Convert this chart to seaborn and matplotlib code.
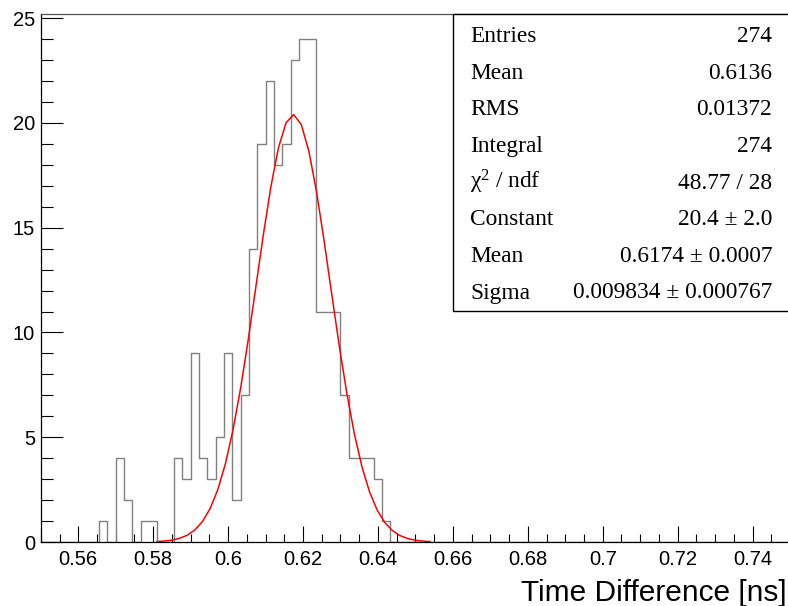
import numpy as np
import pandas as pd
import matplotlib
matplotlib.use("Agg")
import matplotlib.pyplot as plt
from matplotlib.ticker import MultipleLocator, FuncFormatter
from matplotlib.patches import Rectangle
import seaborn as sns

# ---------------- data ----------------
x_min, x_max, n_bins = 0.55, 0.75, 90
first_bin = 7
counts = [1, 0, 4, 2, 0, 1, 1, 0, 0, 4, 3, 9, 4, 3, 5, 9, 2, 7,
          14, 19, 22, 18, 19, 23, 24, 24, 11, 11, 11, 7, 4, 4, 4, 3, 1]

fit_const, fit_mean, fit_sigma = 20.4, 0.6174, 0.009834
fit_lo, fit_hi = 0.581, 0.654

stat_labels = ["Entries", "Mean", "RMS", "Integral", "\u03c7$^{\\mathrm{2}}$ / ndf",
               "Constant", "Mean", "Sigma"]
stat_values = ["274", "0.6136", "0.01372", "274", "48.77 / 28",
               "20.4 \u00b1 2.0", "0.6174 \u00b1 0.0007",
               "0.009834 \u00b1 0.000767"]
x_label = "Time Difference [ns]"

# ---------------- build tables ----------------
edges = np.linspace(x_min, x_max, n_bins + 1)
full_counts = np.zeros(n_bins)
full_counts[first_bin:first_bin + len(counts)] = counts
centers = 0.5 * (edges[:-1] + edges[1:])
hist_df = pd.DataFrame({"x": centers, "w": full_counts})

fx = np.linspace(fit_lo, fit_hi, 37)
fy = fit_const * np.exp(-0.5 * ((fx - fit_mean) / fit_sigma) ** 2)
fit_df = pd.DataFrame({"x": fx, "y": fy})

# ---------------- plot ----------------
sns.set_style("white")
plt.rcParams["font.family"] = ["Liberation Sans", "DejaVu Sans"]
plt.rcParams["text.color"] = "black"
plt.rcParams["xtick.color"] = "black"
plt.rcParams["ytick.color"] = "black"
plt.rcParams["mathtext.fontset"] = "custom"
plt.rcParams["mathtext.rm"] = "Liberation Serif"
plt.rcParams["mathtext.it"] = "Liberation Serif:italic"

W, H = 788, 606
fig = plt.figure(figsize=(W / 100, H / 100), dpi=100)
ax_l, ax_r, ax_t, ax_b = 40.8, 790.0, 14.0, 542.0
ax = fig.add_axes([ax_l / W, 1 - ax_b / H, (ax_r - ax_l) / W, (ax_b - ax_t) / H])

sns.histplot(data=hist_df, x="x", weights="w",
             binwidth=(x_max - x_min) / n_bins, binrange=(x_min, x_max),
             element="step", fill=False, color="#808080", linewidth=1.0, ax=ax)
sns.lineplot(data=fit_df, x="x", y="y", color="red", linewidth=1.1,
             estimator=None, sort=False, ax=ax)

ax.set_xlim(x_min, x_max)
ax.set_ylim(0, 25.2)
ax.set_xlabel("")
ax.set_ylabel("")

for s in ax.spines.values():
    s.set_color("black")
    s.set_linewidth(0.9)
ax.spines["top"].set_color("#555555")

ax.xaxis.set_major_locator(MultipleLocator(0.02))
ax.xaxis.set_minor_locator(MultipleLocator(0.005))
ax.yaxis.set_major_locator(MultipleLocator(5))
ax.yaxis.set_minor_locator(MultipleLocator(1))
ax.xaxis.set_major_formatter(FuncFormatter(lambda v, p: f"{v:g}"))
ax.yaxis.set_major_formatter(FuncFormatter(lambda v, p: f"{v:g}"))

ax.tick_params(axis="x", which="major", direction="in", length=11.5, width=0.8,
               labelsize=14.5, pad=5.5, color="black", labelcolor="black",
               bottom=True, top=False)
ax.tick_params(axis="x", which="minor", direction="in", length=5.8, width=0.8,
               color="black", bottom=True, top=False)
ax.tick_params(axis="y", which="major", direction="in", length=15.8, width=0.8,
               labelsize=14.5, pad=4.0, color="black", labelcolor="black",
               left=True, right=False)
ax.tick_params(axis="y", which="minor", direction="in", length=8.6, width=0.8,
               color="black", left=True, right=False)

fig.text(787 / W, 1 - 601 / H, x_label, ha="right", va="baseline",
         fontsize=21.5, color="black", family=["Liberation Sans", "DejaVu Sans"])

# stats box
box_l, box_t, box_b = 453, 14, 311
rect = Rectangle((box_l / W, 1 - box_b / H), (792 - box_l) / W, (box_b - box_t) / H,
                 transform=fig.transFigure, facecolor="white", edgecolor="black",
                 linewidth=1.0, zorder=5)
fig.patches.append(rect)
base0, step = 42.3, 36.6
for i, (lab, val) in enumerate(zip(stat_labels, stat_values)):
    yy = base0 + i * step
    fig.text(470 / W, 1 - yy / H, lab, ha="left", va="baseline", fontsize=16.8,
             color="black", family=["Liberation Serif", "DejaVu Serif"], zorder=6)
    fig.text(772 / W, 1 - yy / H, val, ha="right", va="baseline", fontsize=16.8,
             color="black", family=["Liberation Serif", "DejaVu Serif"], zorder=6)

fig.savefig("out.png", dpi=100)
